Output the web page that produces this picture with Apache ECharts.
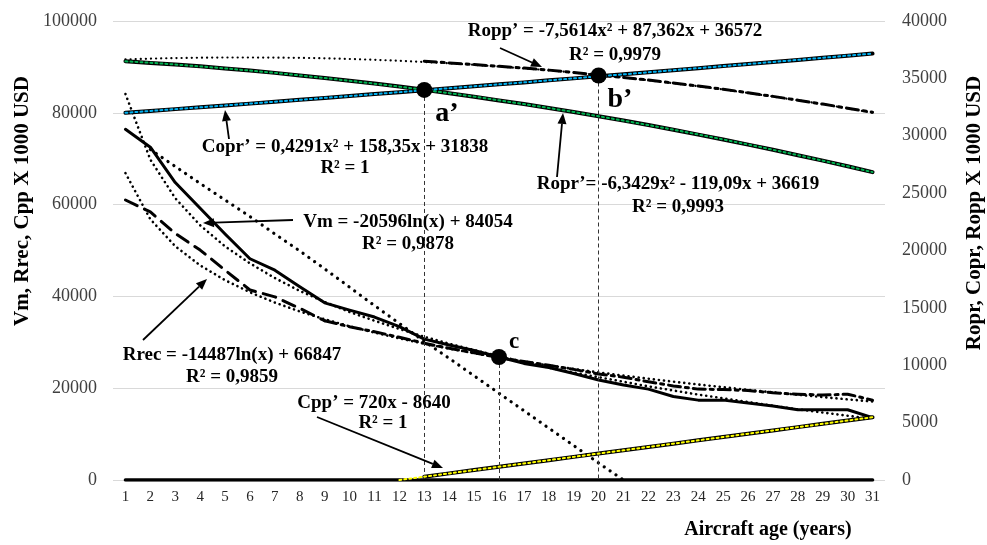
<!DOCTYPE html>
<html><head><meta charset="utf-8">
<script src="https://cdn.jsdelivr.net/npm/echarts@6/dist/echarts.min.js"></script>
<style>html,body{margin:0;padding:0;background:#fff}#c{width:987px;height:545px}</style>
</head><body><div id="c"></div>
<script>
// ---- data ----
const ages = ['1','2','3','4','5','6','7','8','9','10','11','12','13','14','15','16','17','18','19','20','21','22','23','24','25','26','27','28','29','30','31'];
const leftTicks = [0, 20000, 40000, 60000, 80000, 100000];
const rightTicks = [0, 5000, 10000, 15000, 20000, 25000, 30000, 35000, 40000];
// left axis series
const vm = [76400, 72500, 64800, 59200, 53600, 48200, 45700, 42100, 38600, 37000, 35500, 33400, 30700, 29400, 28200, 26800, 25400, 24500, 23200, 21800, 20700, 19800, 18200, 17400, 17400, 16800, 16100, 15300, 15300, 15300, 13600];
const vmTrend = [84100, 69800, 61400, 55500, 50900, 47200, 44000, 41200, 38800, 36600, 34700, 32900, 31200, 29700, 28300, 27000, 25700, 24500, 23400, 22400, 21400, 20400, 19500, 18600, 17800, 17000, 16200, 15400, 14700, 14000, 13300];
const vmLinear = [null, 72000, 68300, 64600, 61000, 57400, 53600, 49900, 46000, 42000, 38000, 34100, 30200, 26500, 22700, 18900, 15100, 11300, 7500, 3700, 0, null, null, null, null, null, null, null, null, null, null];
const rrec = [61000, 58400, 53700, 50100, 45700, 41400, 39900, 37400, 34700, 33400, 32300, 31100, 29800, 28700, 27700, 26700, 25800, 25000, 24100, 23100, 22400, 21400, 20500, 19800, 19700, 19500, 19000, 18700, 18500, 18700, 17400];
const rrecTrend = [66850, 56800, 50930, 46760, 43530, 40890, 38660, 36720, 35020, 33490, 32110, 30850, 29690, 28620, 27620, 26680, 25800, 24970, 24190, 23450, 22740, 22070, 21420, 20810, 20220, 19650, 19100, 18570, 18070, 17570, 17100];
const cpp = [null, null, null, null, null, null, null, null, null, null, null, null, 720, 1440, 2160, 2880, 3600, 4320, 5040, 5760, 6480, 7200, 7920, 8640, 9360, 10080, 10800, 11520, 12240, 12960, 13680];
const cppTrend = [null, null, null, null, null, null, null, null, null, null, null, 0, 720, 1440, 2160, 2880, 3600, 4320, 5040, 5760, 6480, 7200, 7920, 8640, 9360, 10080, 10800, 11520, 12240, 12960, 13680];
const zeroLine = [0, 0, 0, 0, 0, 0, 0, 0, 0, 0, 0, 0, 0, 0, 0, 0, 0, 0, 0, 0, 0, 0, 0, 0, 0, 0, 0, 0, 0, 0, 0];
// right axis series
const ropr = [36500, 36350, 36200, 36050, 35870, 35680, 35480, 35260, 35030, 34800, 34560, 34300, 34000, 33700, 33400, 33080, 32760, 32420, 32070, 31700, 31330, 30930, 30520, 30100, 29670, 29230, 28780, 28300, 27830, 27340, 26830];
const roprTrend = [36490, 36360, 36210, 36040, 35870, 35680, 35480, 35260, 35030, 34790, 34540, 34280, 34000, 33710, 33410, 33090, 32760, 32420, 32070, 31700, 31320, 30930, 30530, 30110, 29680, 29240, 28780, 28310, 27830, 27340, 26830];
const copr = [32000, 32160, 32320, 32480, 32640, 32800, 32970, 33130, 33300, 33460, 33630, 33800, 33970, 34140, 34310, 34480, 34650, 34830, 35000, 35180, 35350, 35530, 35710, 35890, 36070, 36250, 36430, 36610, 36790, 36980, 37160];
const coprTrend = [32000, 32160, 32320, 32480, 32640, 32800, 32970, 33130, 33300, 33460, 33630, 33800, 33970, 34140, 34310, 34480, 34650, 34830, 35000, 35180, 35350, 35530, 35710, 35890, 36070, 36250, 36430, 36610, 36790, 36980, 37160];
const ropp = [null, null, null, null, null, null, null, null, null, null, null, null, 36500, 36350, 36200, 36050, 35900, 35720, 35520, 35300, 35080, 34850, 34600, 34330, 34050, 33750, 33430, 33100, 32760, 32400, 32050];
const roppTrend = [36650, 36720, 36770, 36800, 36820, 36820, 36810, 36790, 36750, 36690, 36620, 36530, 36430, 36310, 36180, 36030, 35870, 35700, 35500, 35290, 35070, 34830, 34580, 34310, 34030, 33730, 33420, 33090, 32750, 32390, 32010];
// intersection points: [age, value]
const pointA = ['13', 33990];
const pointB = ['20', 35250];
const pointC = ['16', 26800];

// ---- chart ----
const SERIF = "'Liberation Serif', 'Times New Roman', serif";
const chart = echarts.init(document.getElementById('c'), null, {renderer: 'canvas'});
const rrecDash = rrec.map((v, i) => i <= 8 ? v : null);
const rrecDashDot = rrec.map((v, i) => i >= 8 ? v : null);

function line(name, data, yIdx, color, width, type, z) {
  return {name, type: 'line', data, yAxisIndex: yIdx, symbol: 'none', showSymbol: false,
    connectNulls: false, z: z || 3, animation: false, silent: true,
    lineStyle: {color, width, type, cap: 'round', join: 'round'}};
}
const dotted = [0.1, 5];
function arrow(x1, y1, x2, y2) {
  const a = Math.atan2(y2 - y1, x2 - x1), L = 11, W = 4.5;
  const c = Math.cos(a), s = Math.sin(a);
  const bx = x2 - L * c, by = y2 - L * s;
  return [
    {type: 'line', shape: {x1, y1, x2: bx, y2: by}, style: {stroke: '#000', lineWidth: 1.8}, z: 100},
    {type: 'polygon', shape: {points: [[x2, y2], [bx + W * s, by - W * c], [bx - W * s, by + W * c]]}, style: {fill: '#000'}, z: 100}
  ];
}
function txt(text, x, y, size, extra) {
  return Object.assign({type: 'text', x, y, z: 100, style: {text, fill: '#000',
    font: 'bold ' + size + 'px ' + SERIF, textAlign: 'center', textVerticalAlign: 'middle', align: 'center', verticalAlign: 'middle'}}, extra || {});
}
const vline = {silent: true, symbol: 'none', animation: false, label: {show: false},
  lineStyle: {color: '#333', width: 1, type: [4, 3]}};
const plain = v => String(v);

const option = {
  animation: false,
  grid: {left: 113, right: 102, top: 21, bottom: 65},
  xAxis: {type: 'category', data: ages, boundaryGap: true,
    axisLine: {show: false}, axisTick: {show: false},
    axisLabel: {color: '#262626', fontSize: 15, fontFamily: SERIF, margin: 10, interval: 0}},
  yAxis: [
    {type: 'value', min: leftTicks[0], max: leftTicks[leftTicks.length - 1], interval: 20000,
      axisLine: {show: false}, axisTick: {show: false},
      axisLabel: {color: '#404040', fontSize: 18, fontFamily: SERIF, margin: 16, formatter: plain},
      splitLine: {lineStyle: {color: '#d9d9d9', width: 1}}},
    {type: 'value', min: rightTicks[0], max: rightTicks[rightTicks.length - 1], interval: 5000,
      axisLine: {show: false}, axisTick: {show: false},
      axisLabel: {color: '#404040', fontSize: 18, fontFamily: SERIF, margin: 17, formatter: plain},
      splitLine: {show: false}}
  ],
  series: [
    line('zero', zeroLine, 0, '#000', 3.5, 'solid', 4),
    line('Ropr', ropr, 1, '#000', 4, 'solid', 3),
    line('Ropr trend', roprTrend, 1, '#00b050', 2, [2, 3], 5),
    line('Copr', copr, 1, '#000', 4, 'solid', 3),
    line('Copr trend', coprTrend, 1, '#00b0f0', 2, [2, 3], 5),
    line('Cpp', cpp, 0, '#000', 4, 'solid', 3),
    line('Cpp trend', cppTrend, 0, '#ffff00', 2, [2, 3], 5),
    line('Ropp trend', roppTrend, 1, '#000', 2.2, dotted, 4),
    line('Ropp', ropp, 1, '#000', 3, [12, 5, 3, 5], 4),
    line('Vm', vm, 0, '#000', 3, 'solid', 4),
    line('Vm trend', vmTrend, 0, '#000', 2.6, dotted, 4),
    line('Vm linear', vmLinear, 0, '#000', 3.2, [0.1, 7], 4),
    line('Rrec', rrecDash, 0, '#000', 3, [13, 8], 4),
    line('Rrec cont', rrecDashDot, 0, '#000', 3, [12, 5, 3, 5], 4),
    line('Rrec trend', rrecTrend, 0, '#000', 2.6, dotted, 4),
    {name: 'points right', type: 'scatter', yAxisIndex: 1, data: [pointA, pointB], symbolSize: 16,
      itemStyle: {color: '#000', opacity: 1}, z: 10, animation: false, silent: true,
      markLine: Object.assign({data: [[{coord: pointA}, {coord: [pointA[0], 0]}], [{coord: pointB}, {coord: [pointB[0], 0]}]]}, vline)},
    {name: 'points left', type: 'scatter', yAxisIndex: 0, data: [pointC], symbolSize: 16,
      itemStyle: {color: '#000', opacity: 1}, z: 10, animation: false, silent: true,
      markLine: Object.assign({data: [[{coord: pointC}, {coord: [pointC[0], 0]}]]}, vline)}
  ],
  graphic: [
    txt('Vm, Rrec, Cpp X 1000 USD', 23, 201, 21, {rotation: Math.PI / 2}),
    txt('Ropr, Copr, Ropp X 1000 USD', 975, 213, 21, {rotation: Math.PI / 2}),
    txt('Aircraft age (years)', 768, 530, 20),
    txt('Ropp’ = -7,5614x² + 87,362x + 36572', 615, 31, 19),
    txt('R² = 0,9979', 615, 55, 19),
    txt('Copr’ = 0,4291x² + 158,35x + 31838', 345, 147, 19),
    txt('R² = 1', 345, 168, 19),
    txt('Ropr’= -6,3429x² - 119,09x + 36619', 678, 184, 19),
    txt('R² = 0,9993', 678, 207, 19),
    txt('Vm = -20596ln(x) + 84054', 408, 222, 19),
    txt('R² = 0,9878', 408, 244, 19),
    txt('Rrec = -14487ln(x) + 66847', 232, 355, 19),
    txt('R² = 0,9859', 232, 377, 19),
    txt('Cpp’ = 720x - 8640', 374, 403, 19),
    txt('R² = 1', 383, 423, 19),
    txt('a’', 447, 114, 28),
    txt('b’', 620, 100, 28),
    txt('c', 514, 342, 23)
  ].concat(arrow(500, 48, 542, 67), arrow(229, 139, 225, 110), arrow(557, 177, 563, 113),
    arrow(293, 220, 203, 223), arrow(143, 340, 207, 279), arrow(317, 417, 443, 468))
};
chart.setOption(option);
</script></body></html>
